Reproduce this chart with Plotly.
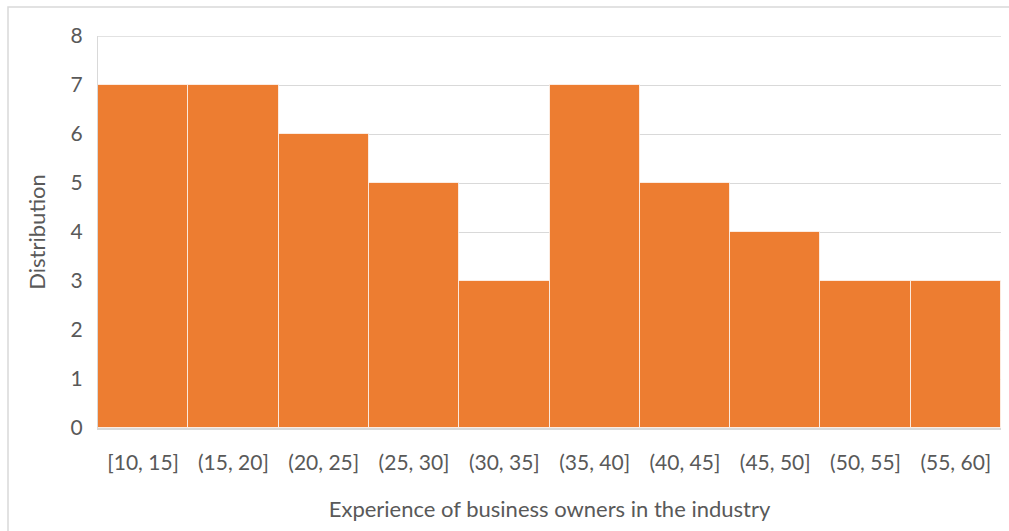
import plotly.graph_objects as go

# Experience bins (years) and counts of business owners in each
bins = ["[10, 15]", "(15, 20]", "(20, 25]", "(25, 30]", "(30, 35]",
        "(35, 40]", "(40, 45]", "(45, 50]", "(50, 55]", "(55, 60]"]
counts = [7, 7, 6, 5, 3, 7, 5, 4, 3, 3]
y_ticks = [0, 1, 2, 3, 4, 5, 6, 7, 8]

W, H = 1009, 531
FONT = "Lato, Calibri, sans-serif"
GREY = "#595959"
GRID = "#D9D9D9"

fig = go.Figure(
    go.Bar(
        x=bins,
        y=counts,
        marker=dict(color="#ED7D31", line=dict(color="rgba(255,255,255,0.7)", width=1)),
        hoverinfo="x+y",
    )
)

fig.update_layout(
    width=W,
    height=H,
    margin=dict(l=98, r=8, t=36, b=103),
    paper_bgcolor="white",
    plot_bgcolor="white",
    bargap=0,
    showlegend=False,
    font=dict(family=FONT, color=GREY, size=21),
    xaxis=dict(
        showgrid=False,
        showline=True,
        linecolor=GRID,
        linewidth=1.5,
        ticks="",
        tickfont=dict(size=21, color=GREY),
        ticklabelstandoff=15,
        title=dict(text="Experience of business owners in the industry",
                   font=dict(size=22, color=GREY), standoff=29),
    ),
    yaxis=dict(
        range=[0, 8],
        tickvals=y_ticks,
        showgrid=True,
        gridcolor=GRID,
        gridwidth=1,
        showline=True,
        linecolor=GRID,
        linewidth=1,
        zeroline=False,
        ticks="",
        tickfont=dict(size=21, color=GREY),
        ticklabelstandoff=10,
        title=dict(text="Distribution", font=dict(size=22, color=GREY), standoff=18),
    ),
    shapes=[
        # top gridline at the axis maximum
        dict(type="line", xref="paper", yref="y", x0=0, x1=1,
             y0=y_ticks[-1], y1=y_ticks[-1], line=dict(color=GRID, width=1.5),
             layer="below"),
        # light frame around the chart area
        dict(type="rect", xref="paper", yref="paper",
             x0=(8 - 98) / (W - 98 - 8), x1=(W + 5 - 98) / (W - 98 - 8),
             y0=-(103 + 5) / (H - 36 - 103), y1=(H - 7 - 103) / (H - 36 - 103),
             line=dict(color=GRID, width=1.5), layer="below"),
    ],
)

fig.write_html("out.html")
